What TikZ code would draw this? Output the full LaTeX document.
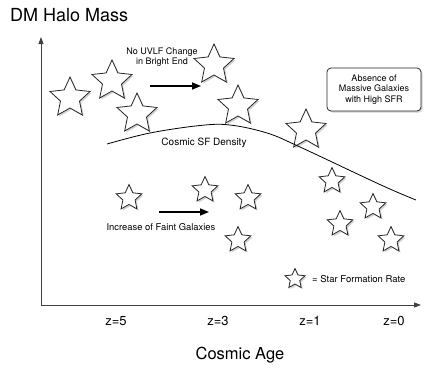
\documentclass[tikz,border=0pt]{standalone}
\usepackage{fontspec}
\setmainfont{TeX Gyre Heros}
\usetikzlibrary{shapes.geometric,shadows,arrows.meta,positioning}

\tikzset{
  sfrstar/.style={star, star points=5, star point ratio=2.1, inner sep=0pt,
    draw=black!85, fill=white, line width=0.8pt, minimum size=42pt,
    drop shadow={shadow xshift=1.6pt, shadow yshift=-1.6pt, opacity=0.35}},
  faintstar/.style={sfrstar, minimum size=27pt},
  axis/.style={draw=black!75, line width=0.8pt, -{Triangle[length=7pt,width=5pt]}},
  trend/.style={line width=1.6pt, -{Triangle[length=9pt,width=7pt]}},
  note/.style={font=\fontsize{9}{10.5}\selectfont, align=center, inner sep=1pt},
}

\begin{document}
\begin{tikzpicture}[x=1pt, y=-1pt]
        \useasboundingbox (0,0) rectangle (436,370);
        % axes
        \coordinate (origin) at (41,305);
        \coordinate (ytop) at (41,37);
        \coordinate (xend) at (421,305);
        \draw[axis] (origin) -- (ytop);
        \draw[axis] (origin) -- (xend);
        \node (ylabel) [anchor=west, inner sep=0pt, font=\fontsize{18}{20}\selectfont] at (10,15) {DM Halo Mass};
        \node (xlabel) [font=\fontsize{16.5}{19}\selectfont] at (240,355) {Cosmic Age};
        \foreach \z/\x in {5/116, 3/218, 1/310, 0/394}
            \node (z\z) [font=\fontsize{13}{15}\selectfont] at (\x,321) {z=\z};
        % massive galaxies
        \foreach \n/\x/\y in {m1/70/98, m2/112/81, m3/137/114, m4/214/65, m5/238/106, m6/306/130}
            \node (\n) [sfrstar] at (\x,\y) {};
        % faint galaxies
        \foreach \n/\x/\y in {f1/129/198, f2/205/190, f3/248/198, f4/238/240, f5/332/181, f6/373/207, f7/340/224, f8/391/240}
            \node (\n) [faintstar] at (\x,\y) {};
        % cosmic star formation density
        \draw[line width=0.8pt] plot[smooth, tension=0.6] coordinates {(107,144) (150,133) (200,125.5) (230,125) (267,133) (300,147) (381,185) (416,200)};
        \node (sfd) [note, font=\fontsize{10}{12}\selectfont] at (204,143) {Cosmic SF Density};
        % trends
        \coordinate (bright0) at (150,86);
        \coordinate (bright1) at (201,86);
        \draw[trend] (bright0) -- (bright1);
        \node (bright) [note] at (162,57) {No UVLF Change\\in Bright End};
        \coordinate (faint0) at (159,212);
        \coordinate (faint1) at (209,212);
        \draw[trend] (faint0) -- (faint1);
        \node (faint) [note, font=\fontsize{9.4}{11}\selectfont] at (161,227) {Increase of Faint Galaxies};
        % absence box
        \node (absence) [draw=black!85, fill=white, line width=0.8pt, rounded corners=4pt, note,
            minimum width=94pt, minimum height=43pt,
            drop shadow={shadow xshift=1.6pt, shadow yshift=-1.6pt, opacity=0.35}] at (374,89.5)
            {Absence of\\Massive Galaxies\\with High SFR};
        % legend
        \node (key) [sfrstar, minimum size=21pt] at (295,279) {};
        \node (keytext) [note, font=\fontsize{9.5}{11}\selectfont, right=9pt of key] {= Star Formation Rate};
    \end{tikzpicture}
\end{document}
